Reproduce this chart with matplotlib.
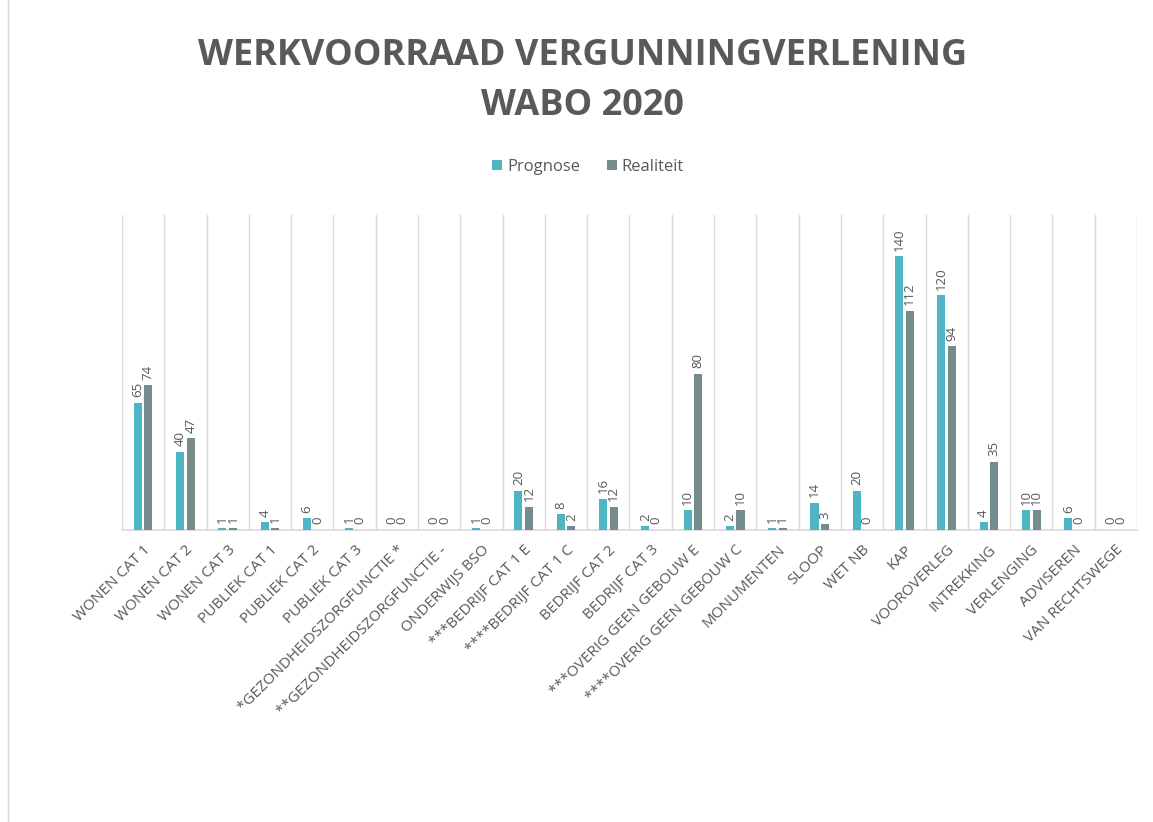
import numpy as np
import matplotlib
matplotlib.use("Agg")
import matplotlib.pyplot as plt
from matplotlib.lines import Line2D

categories = [
    "WONEN CAT 1", "WONEN CAT 2", "WONEN CAT 3", "PUBLIEK CAT 1", "PUBLIEK CAT 2",
    "PUBLIEK CAT 3", "*GEZONDHEIDSZORGFUNCTIE *", "**GEZONDHEIDSZORGFUNCTIE -",
    "ONDERWIJS BSO", "***BEDRIJF CAT 1 E", "****BEDRIJF CAT 1 C", "BEDRIJF CAT 2",
    "BEDRIJF CAT 3", "***OVERIG GEEN GEBOUW E", "****OVERIG GEEN GEBOUW C",
    "MONUMENTEN", "SLOOP", "WET NB", "KAP", "VOOROVERLEG", "INTREKKING",
    "VERLENGING", "ADVISEREN", "VAN RECHTSWEGE",
]
prognose = [65, 40, 1, 4, 6, 1, 0, 0, 1, 20, 8, 16, 2, 10, 2, 1, 14, 20, 140, 120, 4, 10, 6, 0]
realiteit = [74, 47, 1, 1, 0, 0, 0, 0, 0, 12, 2, 12, 0, 80, 10, 1, 3, 0, 112, 94, 35, 10, 0, 0]

C_PROG = "#4db6c2"
C_REAL = "#768b8c"
TXT = "#595959"
GRID = "#d9d9d9"
FONT = ["Open Sans", "DejaVu Sans"]

plt.rcParams["font.family"] = FONT

fig = plt.figure(figsize=(11.53, 8.22), dpi=100)
ax = fig.add_axes([0.1058, 0.3552, 0.8803, 0.3832])

x = np.arange(len(categories))
w = 0.19
off = 0.125
b1 = ax.bar(x - off, prognose, w, color=C_PROG, label="Prognose", zorder=3)
b2 = ax.bar(x + off, realiteit, w, color=C_REAL, label="Realiteit", zorder=3)

for bars, vals in ((b1, prognose), (b2, realiteit)):
    for r, v in zip(bars, vals):
        ax.annotate(str(v), (r.get_x() + r.get_width() / 2, v),
                    xytext=(0, 4), textcoords="offset points",
                    rotation=90, ha="center", va="bottom",
                    fontsize=9.5, color=TXT)

ax.set_xlim(-0.5, len(categories) - 0.5)
ax.set_ylim(0, 161)
ax.set_yticks([])
for xb in np.arange(-0.5, len(categories), 1.0):
    ax.axvline(xb, color=GRID, lw=1, zorder=1)
for s in ("top", "right", "left"):
    ax.spines[s].set_visible(False)
ax.spines["bottom"].set_color(GRID)
ax.spines["bottom"].set_linewidth(1.2)

ax.set_xticks(x)
ax.set_xticklabels(categories, rotation=45, ha="right", rotation_mode="anchor",
                   fontsize=11, color=TXT)
ax.tick_params(axis="x", length=0, pad=9)

fig.text(0.505, 0.932, "WERKVOORRAAD VERGUNNINGVERLENING", ha="center", va="center",
         fontsize=26, fontweight="bold", color=TXT)
fig.text(0.505, 0.871, "WABO 2020", ha="center", va="center",
         fontsize=26, fontweight="bold", color=TXT)

fig.legend(handles=[b1, b2], loc="center", bbox_to_anchor=(0.51, 0.797), ncol=2,
           frameon=False, fontsize=12, handlelength=0.6, handleheight=0.6,
           handletextpad=0.3, columnspacing=1.6, labelcolor=TXT)

fig.add_artist(Line2D([0.007, 0.007], [0, 1], transform=fig.transFigure, color=GRID, lw=1))

fig.savefig("out.png", dpi=100, facecolor="white")
